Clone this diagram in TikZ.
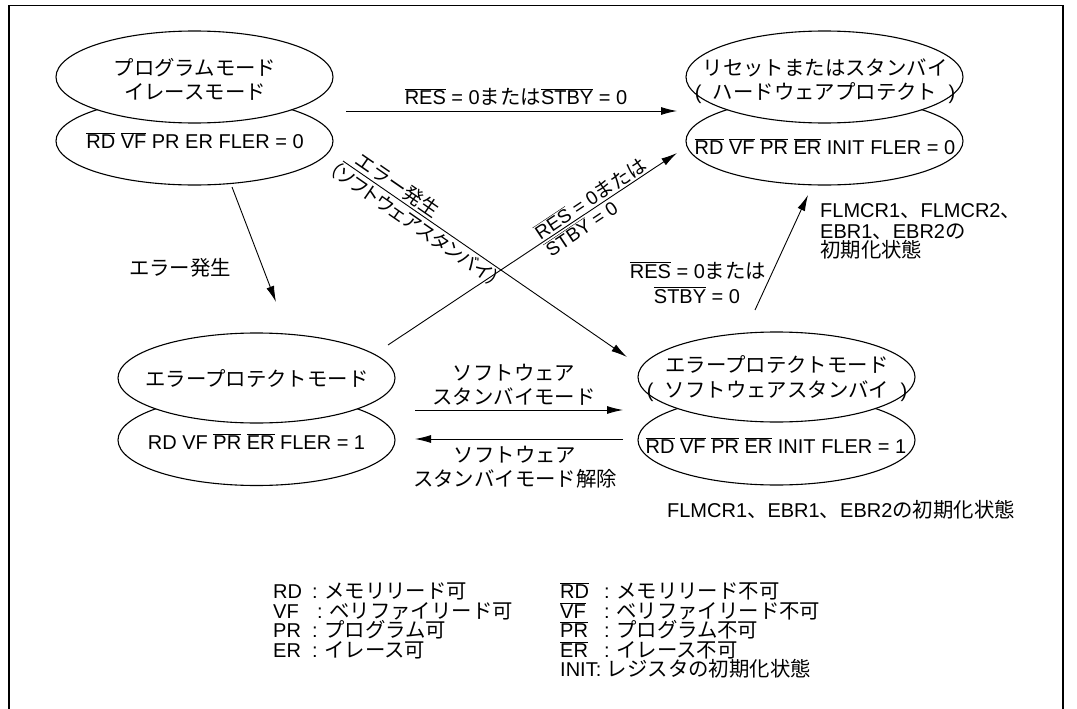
\documentclass[tikz,border=0pt]{standalone}
\usepackage{fontspec}
\setmainfont{Liberation Sans}
\newfontfamily\jp{Noto Sans CJK JP}[Scale=1.02]
\newfontfamily\jpp{Noto Sans CJK JP}[RawFeature=+palt]
\usetikzlibrary{shapes.geometric,arrows.meta}
\newcommand\ovl[1]{$\overline{\hbox{#1}}$}
\newcommand\lcol[2]{\makebox[#1pt][l]{#2}\makebox[12pt][l]{:}}
\newcommand\lpar{\makebox[19pt][l]{\hspace{1pt}(}}
\newcommand\rpar{\makebox[19pt][r]{)\hspace{1pt}}}
\begin{document}
\begin{tikzpicture}[x=1pt,y=-1pt,
  ell/.style={ellipse,draw,line width=1.1pt,minimum width=277pt,inner sep=0pt},
  ellw/.style={ell,fill=white},
  txt/.style={anchor=base,inner sep=0pt,text height=14pt,text depth=3pt,font=\fontsize{20}{24}\selectfont},
  lt/.style={txt,anchor=base west},
  arr/.style={line width=0.9pt,-{Latex[length=16pt,width=8pt]}},
  lbl/.style={inner sep=1.5pt,font=\fontsize{19}{23}\selectfont}]
\useasboundingbox (0,0) rectangle (1077,709);
% frame
\draw[line width=1.1pt] (9,709) -- (9,5.5) -- (1063,5.5) -- (1063,709);

% ellipses (lower first, upper on top)
\node[ell,minimum height=88pt] (tlL) at (194.5,141) {};
\node[ellw,minimum height=92pt] (tlU) at (194.5,77) {};
\node[ell,minimum height=88pt] (trL) at (824.5,141) {};
\node[ellw,minimum height=92pt] (trU) at (824.5,77) {};
\node[ell,minimum height=91pt] (blL) at (256.5,440) {};
\node[ellw,minimum height=90pt] (blU) at (256.5,378) {};
\node[ell,minimum height=90pt] (brL) at (776.5,440) {};
\node[ellw,minimum height=90pt] (brU) at (776.5,377) {};

% ellipse texts
\node[txt] (t1a) at (195,76) {\jp プログラムモード};
\node[txt] (t1b) at (195,99.5) {\jp イレースモード};
\node[txt] (t1c) at (195,148.3) {\ovl{RD} \ovl{VF} PR ER FLER = 0};
\node[txt] (t2a) at (825,76) {\jp リセットまたはスタンバイ};
\node[txt] (t2b) at (825,99.5) {\lpar{\jp ハードウェアプロテクト}\rpar};
\node[txt] (t2c) at (825,154) {\ovl{RD} \ovl{VF} \ovl{PR} \ovl{ER} INIT FLER = 0};
\node[txt] (t3a) at (257,386) {\jp エラープロテクトモード};
\node[txt] (t3b) at (256.5,449.3) {RD VF \ovl{PR} \ovl{ER} FLER = 1};
\node[txt] (t4a) at (777,372.6) {\jp エラープロテクトモード};
\node[txt] (t4b) at (777,397.6) {\lpar{\jp ソフトウェアスタンバイ}\rpar};
\node[txt] (t4c) at (776,453.3) {\ovl{RD} \ovl{VF} \ovl{PR} \ovl{ER} INIT FLER = 1};
\node[txt] (n4) at (841,517) {FLMCR1{\jp 、}EBR1{\jp 、}EBR2{\jp の初期化状態}};

% connector end points
\coordinate (a1s) at (346,111); \coordinate (a1e) at (677,111);
\coordinate (a2s) at (232,187); \coordinate (a2e) at (276,302);
\coordinate (a3s) at (343,161); \coordinate (a3e) at (627,357);
\coordinate (a4s) at (388,345); \coordinate (a4e) at (677,153);
\coordinate (a5s) at (755,310); \coordinate (a5e) at (808,195);
\coordinate (a6s) at (415,410); \coordinate (a6e) at (623,410);
\coordinate (a7s) at (623,439); \coordinate (a7e) at (415,439);

\draw[arr] (a1s) -- (a1e);
\node[txt] (l1) at (516,105) {\ovl{RES} = 0{\jp または}\ovl{STBY} = 0};

\draw[arr] (a2s) -- (a2e);
\node[txt] (l2) at (180,275.6) {\jp エラー発生};

\draw[arr] (a3s) -- node[pos=0.17,sloped,above,lbl] (l3a) {\jp エラー発生}
  node[pos=0.275,sloped,below,lbl] (l3b) {\jpp （ソフトウェアスタンバイ）} (a3e);

\draw[arr] (a4s) -- node[pos=0.72,sloped,above,lbl] (l4a) {\ovl{RES} = 0{\jp または}}
  node[pos=0.65,sloped,below,lbl] (l4b) {\ovl{STBY} = 0} (a4e);

\draw[arr] (a5s) -- (a5e);
\node[txt] (l5a) at (698,278) {\ovl{RES} = 0{\jp または}};
\node[txt] (l5b) at (697,303) {\ovl{STBY} = 0};
\node[lt] (f1) at (820,217) {FLMCR1{\jp 、}FLMCR2{\jp 、}};
\node[lt] (f2) at (820,238) {EBR1{\jp 、}EBR2{\jp の}};
\node[lt] (f3) at (820,257.6) {\jp 初期化状態};

\draw[arr] (a6s) -- (a6e);
\node[txt] (l6a) at (514,380.6) {\jp ソフトウェア};
\node[txt] (l6b) at (514,404.3) {\jp スタンバイモード};
\draw[arr] (a7s) -- (a7e);
\node[txt] (l7a) at (515,462.6) {\jp ソフトウェア};
\node[txt] (l7b) at (515,486.6) {\jp スタンバイモード解除};

% legend
\node[lt] (g1) at (273,598.5) {\lcol{39}{RD}\jp メモリリード可};
\node[lt] (g2) at (273,618) {\lcol{44}{VF}\jp ベリファイリード可};
\node[lt] (g3) at (273,637.5) {\lcol{39}{PR}\jp プログラム可};
\node[lt] (g4) at (273,657) {\lcol{39}{ER}\jp イレース可};
\node[lt] (h1) at (560,598.5) {\lcol{44}{\ovl{RD}}\jp メモリリード不可};
\node[lt] (h2) at (560,618) {\lcol{44}{\ovl{VF}}\jp ベリファイリード不可};
\node[lt] (h3) at (560,637.5) {\lcol{44}{\ovl{PR}}\jp プログラム不可};
\node[lt] (h4) at (560,657) {\lcol{44}{\ovl{ER}}\jp イレース不可};
\node[lt] (h5) at (560,676.5) {INIT: {\jp レジスタの初期化状態}};
\end{tikzpicture}
\end{document}
